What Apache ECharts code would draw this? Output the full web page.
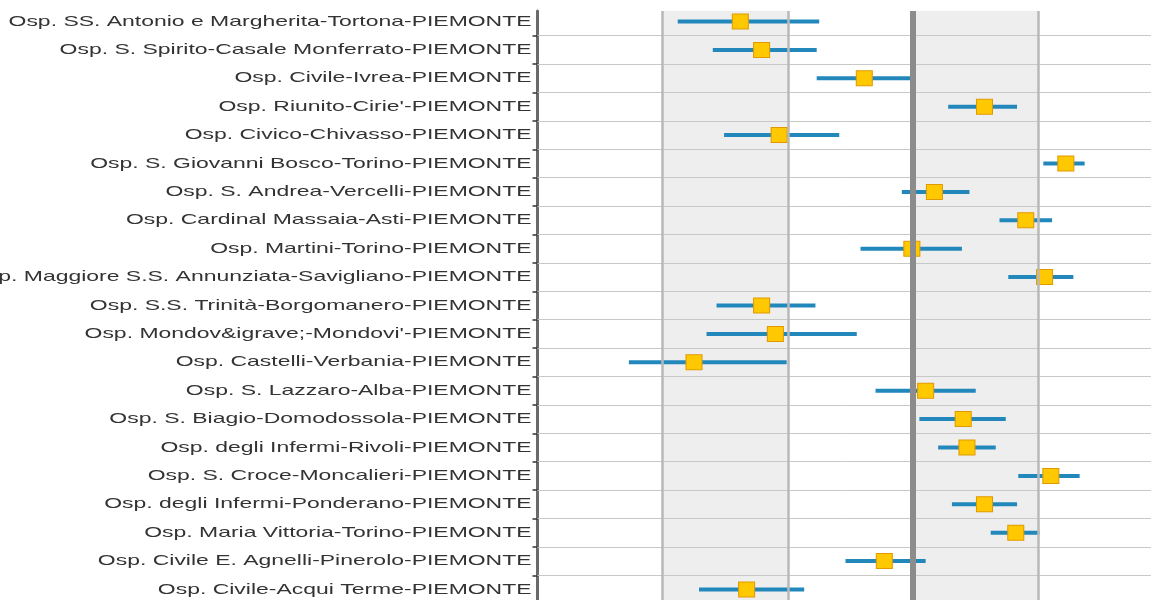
<!DOCTYPE html>
<html>
<head>
<meta charset="utf-8">
<script src="https://cdn.jsdelivr.net/npm/echarts@6/dist/echarts.min.js"></script>
<style>
  html, body { margin: 0; padding: 0; background: #ffffff; }
  #chart { width: 1151px; height: 600px; }
</style>
</head>
<body>
<div id="chart"></div>
<script>
// Hospitals, top to bottom
const hospitals = [
  "Osp. SS. Antonio e Margherita-Tortona-PIEMONTE",
  "Osp. S. Spirito-Casale Monferrato-PIEMONTE",
  "Osp. Civile-Ivrea-PIEMONTE",
  "Osp. Riunito-Cirie'-PIEMONTE",
  "Osp. Civico-Chivasso-PIEMONTE",
  "Osp. S. Giovanni Bosco-Torino-PIEMONTE",
  "Osp. S. Andrea-Vercelli-PIEMONTE",
  "Osp. Cardinal Massaia-Asti-PIEMONTE",
  "Osp. Martini-Torino-PIEMONTE",
  "Osp. Maggiore S.S. Annunziata-Savigliano-PIEMONTE",
  "Osp. S.S. Trinità-Borgomanero-PIEMONTE",
  "Osp. Mondov&igrave;-Mondovi'-PIEMONTE",
  "Osp. Castelli-Verbania-PIEMONTE",
  "Osp. S. Lazzaro-Alba-PIEMONTE",
  "Osp. S. Biagio-Domodossola-PIEMONTE",
  "Osp. degli Infermi-Rivoli-PIEMONTE",
  "Osp. S. Croce-Moncalieri-PIEMONTE",
  "Osp. degli Infermi-Ponderano-PIEMONTE",
  "Osp. Maria Vittoria-Torino-PIEMONTE",
  "Osp. Civile E. Agnelli-Pinerolo-PIEMONTE",
  "Osp. Civile-Acqui Terme-PIEMONTE"
];

// Point estimates and interval bounds (standardised units)
const estimate = [-1.38, -1.21, -0.39, 0.57, -1.07, 1.22, 0.17, 0.90, -0.01, 1.05,
                  -1.21, -1.10, -1.75, 0.10, 0.40, 0.43, 1.10, 0.57, 0.82, -0.23, -1.33];
const lower    = [-1.88, -1.60, -0.77, 0.28, -1.51, 1.04, -0.09, 0.69, -0.42, 0.76,
                  -1.57, -1.65, -2.27, -0.30, 0.05, 0.20, 0.84, 0.31, 0.62, -0.54, -1.71];
const upper    = [-0.75, -0.77, -0.01, 0.83, -0.59, 1.37, 0.45, 1.11, 0.39, 1.28,
                  -0.78, -0.45, -1.01, 0.50, 0.74, 0.66, 1.33, 0.83, 1.01, 0.10, -0.87];

// Reference lines and shaded bands on the value axis
const refLines = [-2, -1, 0, 1];
const bands = [[-2, -1], [0, 1]];

const rows = hospitals.map((_, i) => i);
const boundaries = hospitals.slice(1).map((_, i) => i + 0.5);

const chart = echarts.init(document.getElementById('chart'), null, { renderer: 'canvas' });

chart.setOption({
  animation: false,
  grid: { left: 537.5, right: 0, top: 11, bottom: 0 },
  xAxis: { type: 'value', min: -3, max: 1.9, show: false },
  yAxis: {
    type: 'value',
    inverse: true,
    min: -0.37,
    max: 20.37,
    axisLine: { show: true, onZero: false, lineStyle: { color: '#6a6a6a', width: 3 } },
    axisTick: { show: true, customValues: boundaries, length: 5, lineStyle: { color: '#333333', width: 1.5 } },
    axisLabel: { show: false },
    splitLine: { show: false }
  },
  series: [
    {
      // shaded bands
      type: 'scatter', data: [], silent: true, z: 1,
      markArea: {
        silent: true,
        itemStyle: { color: '#eeeeee' },
        data: bands.map(b => [{ xAxis: b[0] }, { xAxis: b[1] }])
      }
    },
    {
      // row separators and reference lines
      type: 'scatter', data: [], silent: true, z: 2,
      markLine: {
        silent: true, symbol: 'none', label: { show: false }, animation: false,
        data: [
          ...boundaries.map(v => ({ yAxis: v, lineStyle: { color: '#c8c8c8', width: 1, type: 'solid' } })),
          ...refLines.map(v => ({
            xAxis: v,
            lineStyle: v === 0
              ? { color: '#8c8c8c', width: 6, type: 'solid' }
              : { color: '#b8b8b8', width: 2.5, type: 'solid' }
          }))
        ]
      }
    },
    {
      // interval bars
      type: 'custom', z: 3, clip: false, silent: true,
      data: rows.map(i => [lower[i], upper[i], i]),
      encode: { x: [0, 1], y: 2 },
      renderItem: (params, api) => {
        const a = api.coord([api.value(0), api.value(2)]);
        const b = api.coord([api.value(1), api.value(2)]);
        return {
          type: 'line',
          shape: { x1: a[0], y1: a[1], x2: b[0], y2: b[1] },
          style: { stroke: '#2288bb', lineWidth: 4 }
        };
      }
    },
    {
      // point estimates
      type: 'scatter', z: 4, silent: true,
      data: rows.map(i => [estimate[i], i]),
      symbol: 'rect',
      symbolSize: [16, 15],
      itemStyle: { color: '#ffc800', borderColor: '#e09a00', borderWidth: 1, opacity: 1 }
    },
    {
      // hospital names beside the axis
      type: 'custom', z: 5, clip: false, silent: true,
      data: rows.map(i => [-3, i]),
      encode: { x: 0, y: 1 },
      renderItem: (params, api) => {
        const p = api.coord([api.value(0), api.value(1)]);
        return {
          type: 'text',
          x: p[0] - 6,
          y: p[1],
          scaleX: 1.53,
          style: {
            text: hospitals[params.dataIndex],
            fill: '#333333',
            font: '15px "Liberation Sans", Arial, sans-serif',
            align: 'right',
            verticalAlign: 'middle'
          }
        };
      }
    }
  ]
});
</script>
</body>
</html>
